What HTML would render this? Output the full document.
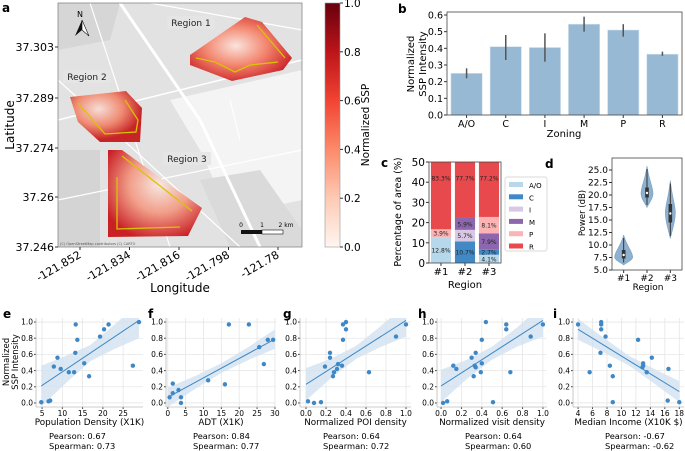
<!DOCTYPE html>
<html><head><meta charset="utf-8"><style>
html,body{margin:0;padding:0;background:#fff}
svg{display:block;font-family:"DejaVu Sans","Liberation Sans",sans-serif}
</style></head><body>
<svg id="fig" width="685" height="451" viewBox="0 0 685 451" xmlns="http://www.w3.org/2000/svg">
<defs>
<linearGradient id="reds" x1="0" y1="1" x2="0" y2="0">
<stop offset="0" stop-color="#fff5f0"/><stop offset="0.2" stop-color="#fdcab5"/><stop offset="0.4" stop-color="#fc8a6a"/><stop offset="0.6" stop-color="#f14432"/><stop offset="0.8" stop-color="#bc141a"/><stop offset="1" stop-color="#67000d"/>
</linearGradient>
<radialGradient id="heat1" cx="0.45" cy="0.45" r="0.6"><stop offset="0" stop-color="#fbe4dc"/><stop offset="0.5" stop-color="#f4826a"/><stop offset="1" stop-color="#c9181d"/></radialGradient>
<radialGradient id="heat2" cx="0.4" cy="0.35" r="0.6"><stop offset="0" stop-color="#f6ddd6"/><stop offset="0.55" stop-color="#f0866c"/><stop offset="1" stop-color="#c41a1c"/></radialGradient>
<radialGradient id="heat3" cx="0.55" cy="0.4" r="0.65"><stop offset="0" stop-color="#f7e7e2"/><stop offset="0.5" stop-color="#f29a84"/><stop offset="1" stop-color="#c8161c"/></radialGradient>
</defs>
<g id="root"></g>
</svg>
<script>
// ===== Panel b data =====
const zoneCats = ["A/O","C","I","M","P","R"];
const zoneVals = [0.25,0.41,0.405,0.545,0.51,0.365];
const zoneLo = [0.22,0.33,0.32,0.50,0.47,0.355];
const zoneHi = [0.28,0.48,0.49,0.59,0.545,0.38];
const zoneTicks = [0,0.1,0.2,0.3,0.4,0.5,0.6];
// ===== Panel c data =====
const regionCats = ["#1","#2","#3"];
const areaAO = [12.8,0,4.1];
const areaC = [0,10.7,2.7];
const areaI = [0,5.7,0];
const areaM = [0,5.9,7.9];
const areaP = [3.9,0,8.1];
const areaR = [83.3,77.7,77.2];
const areaTicks = [0,10,20,30,40,50];
// ===== Panel d data =====
const vMin = [6.0,17.5,11.3];
const vMax = [12.0,25.8,22.9];
const vMode = [7.6,20.3,16.5];
const vQ1 = [7.3,19.5,14.5];
const vMed = [8.0,20.4,16.3];
const vQ3 = [9.0,21.5,18.2];
const powerTicks = [5,7.5,10,12.5,15,17.5,20,22.5,25];
// ===== Panel e-i data =====
const ssp_e = [0.01,0.02,0.03,0.45,0.56,0.42,0.38,0.38,0.62,0.97,0.78,0.49,0.33,0.82,0.91,0.97,0.46,1.0];
const pop_e = [4.8,6.6,7.0,7.9,8.8,9.6,11.6,12.9,13.2,13.3,13.7,15.4,16.6,19.3,20.3,21.4,27.4,28.9];
const adt_f = [0.5,1.4,1.4,3.0,3.7,3.7,11.3,16.0,17.1,22.7,25.6,26.9,28.0,29.5];
const ssp_f = [0.07,0.12,0.24,0.16,0.07,0.0,0.28,0.23,0.97,0.97,0.69,0.48,0.78,0.78];
const poi_g = [0.02,0.08,0.15,0.19,0.24,0.24,0.27,0.28,0.31,0.32,0.36,0.37,0.40,0.40,0.37,0.63,0.90,1.0];
const ssp_g = [0.02,0.0,0.01,0.45,0.62,0.56,0.33,0.38,0.42,0.48,0.46,0.97,1.0,0.91,0.78,0.38,0.82,0.97];
const visit_h = [0.02,0.06,0.12,0.15,0.30,0.32,0.34,0.33,0.34,0.39,0.40,0.40,0.44,0.51,0.64,0.64,0.68,0.88,1.0];
const ssp_h = [0.0,0.02,0.46,0.42,0.56,0.33,0.62,0.46,0.44,0.38,0.49,0.78,1.0,0.01,0.97,0.91,0.38,0.82,0.97];
const inc_i = [4.0,5.6,7.1,7.2,7.2,7.2,7.8,8.4,8.8,8.8,12.3,13.0,13.0,12.9,13.5,14.2,16.5,16.4,18.0];
const ssp_i = [0.97,0.38,0.62,1.0,0.97,0.91,0.82,0.46,0.33,0.01,0.78,0.49,0.46,0.44,0.38,0.56,0.42,0.03,0.01];
const fitE = [0.21,1.02], fitF=[0.07,0.79], fitG=[0.23,1.02], fitH=[0.21,1.02], fitI=[0.91,0.14];
const bandE = [0.25,0.17,0.1,0.15,0.22], bandF=[0.12,0.08,0.06,0.08,0.12], bandG=[0.2,0.12,0.08,0.13,0.2], bandH=[0.2,0.12,0.08,0.12,0.2], bandI=[0.13,0.09,0.06,0.09,0.13];
const sspTicks = [0,0.2,0.4,0.6,0.8,1.0];
// ===== Map ticks =====
const latTicks = ["37.303","37.289","37.274","37.26","37.246"];
const lonTicks = ["-121.852","-121.834","-121.816","-121.798","-121.78"];
const cbTicks = [0,0.2,0.4,0.6,0.8,1.0];

const NS="http://www.w3.org/2000/svg";
const root=document.getElementById('root');
function el(tag,attrs,parent,txt){const e=document.createElementNS(NS,tag);for(const k in attrs)e.setAttribute(k,attrs[k]);if(txt!==undefined)e.textContent=txt;(parent||root).appendChild(e);return e;}
function lin(d0,d1,r0,r1){return v=>r0+(v-d0)/(d1-d0)*(r1-r0);}
function fmt1(v){return v.toFixed(1);}

// ===== Panel a: map =====
const ga=el('g',{});

let t=el('text',{x:2,y:12,'font-size':12,'font-weight':'bold'},ga,'a');

let bg=el('rect',{x:58,y:3,width:244,height:244,fill:'#e2e2e2'},ga);

el('path',{d:'M170 100 L302 70 L302 200 L230 215 L200 150 Z',fill:'#f4f4f4'},ga);
el('path',{d:'M58 3 L120 3 L110 40 L58 50 Z',fill:'#d6d6d6'},ga);
el('path',{d:'M58 150 L100 150 L100 247 L58 247 Z',fill:'#d4d4d4'},ga);
el('path',{d:'M200 180 L260 170 L302 230 L302 247 L230 247 Z',fill:'#dadada'},ga);
[['M120 3 L200 120 L260 247',3],['M58 120 L302 60',1.5],['M58 200 L302 150',1.2],['M90 3 L170 247',1.2],['M58 80 L240 247',1.2],['M150 3 L302 30',1.2],['M230 100 L240 140',1]].forEach(r=>{el('path',{d:r[0],stroke:'#fff','stroke-width':r[1],fill:'none'},ga);});
const reg=[['M190 55 L245 17 L262 22 L292 58 L283 70 L232 81 L190 65 Z','heat1','M196 58 L215 62 L235 72 L250 65 L278 62','M257 25 L285 58'],
['M70 97 L126 91 L142 108 L140 142 L100 142 L78 122 Z','heat2','M78 103 L105 134 L136 132 L138 120 L125 100',''],
['M108 150 L122 150 L202 208 L188 236 L108 237 Z','heat3','M117 177 L117 229 L180 227','M122 156 L192 211']];
reg.forEach((r,i)=>{const p=el('path',{d:r[0],fill:'url(#'+r[1]+')',opacity:0.95},ga);

const l=el('path',{d:r[2],stroke:'#d8c400','stroke-width':1.3,fill:'none'},ga);

if(r[3]){el('path',{d:r[3],stroke:'#d8c400','stroke-width':1.3,fill:'none'},ga);}});
[[167,16,'Region 1'],[63,70,'Region 2'],[163,152,'Region 3']].forEach((r,i)=>{
const g=el('g',{},ga);
el('rect',{x:r[0],y:r[1],width:48,height:13,fill:'#e6e6e6',opacity:0.9},g);
el('text',{x:r[0]+24,y:r[1]+10,'font-size':9,'text-anchor':'middle',fill:'#222'},g,r[2]);});
const na=el('g',{},ga);
el('text',{x:80,y:17,'font-size':8,'text-anchor':'middle'},na,'N');
el('path',{d:'M82 20 L75 36 L82 30 Z',fill:'#111'},na);el('path',{d:'M82 20 L89 36 L82 30 Z',fill:'#fff',stroke:'#111','stroke-width':0.6},na);
const sb=el('g',{},ga);
el('rect',{x:241,y:230,width:21,height:4,fill:'#111'},sb);el('rect',{x:262,y:230,width:21,height:4,fill:'#fff',stroke:'#111','stroke-width':0.6},sb);
el('text',{x:241,y:227,'font-size':6,'text-anchor':'middle'},sb,'0');el('text',{x:262,y:227,'font-size':6,'text-anchor':'middle'},sb,'1');el('text',{x:286,y:227,'font-size':6,'text-anchor':'middle'},sb,'2 km');
el('text',{x:60,y:245,'font-size':3.5,fill:'#555'},ga,'(C) OpenStreetMap contributors (C) CARTO');
el('rect',{x:58,y:3,width:244,height:244,fill:'none',stroke:'#888','stroke-width':0.8},ga);
const latY=[47,98,148,197,247];
latTicks.forEach((s,i)=>{el('line',{x1:55,x2:58,y1:latY[i],y2:latY[i],stroke:'#333'},ga);
const tt=el('text',{x:54,y:latY[i]+4,'font-size':11,'text-anchor':'end'},ga,s);});
const lonX=[80,129.5,179,228.5,278];
lonTicks.forEach((s,i)=>{el('line',{x1:lonX[i],x2:lonX[i],y1:247,y2:250,stroke:'#333'},ga);
const tt=el('text',{x:lonX[i]+2,y:257,'font-size':11,'text-anchor':'end',transform:'rotate(-30 '+(lonX[i]+2)+' 257)'},ga,s);});
t=el('text',{x:14,y:125,'font-size':12,'text-anchor':'middle',transform:'rotate(-90 14 125)'},ga,'Latitude');
t=el('text',{x:180,y:292,'font-size':12,'text-anchor':'middle'},ga,'Longitude');
const cb=el('g',{},ga);
el('rect',{x:325,y:3,width:15,height:244,fill:'url(#reds)',stroke:'#999','stroke-width':0.6},cb);
const cbY=lin(0,1,247,3);
cbTicks.forEach(v=>{el('line',{x1:340,x2:343,y1:cbY(v),y2:cbY(v),stroke:'#333'},cb);el('text',{x:344,y:cbY(v)+4,'font-size':10.5},cb,fmt1(v));});
el('text',{x:369,y:125,'font-size':10.5,'text-anchor':'middle',transform:'rotate(-90 369 125)'},cb,'Normalized SSP');

// ===== Panel b =====
const gb=el('g',{});
t=el('text',{x:398,y:13,'font-size':12,'font-weight':'bold'},gb,'b');
const bx0=447,bx1=682,bYt=12,bYb=115;
const by=lin(0,0.6,115,15);
const bw=(bx1-bx0)/6;
zoneCats.forEach((c,i)=>{const cx=bx0+bw*(i+0.5);
const r=el('rect',{x:cx-bw*0.4,y:by(zoneVals[i]),width:bw*0.8,height:by(0)-by(zoneVals[i]),fill:'#98b9d4',stroke:'#d4e4f0','stroke-width':0.6},gb);

const e=el('line',{x1:cx,x2:cx,y1:by(zoneLo[i]),y2:by(zoneHi[i]),stroke:'#555','stroke-width':1.5},gb);

el('line',{x1:cx,x2:cx,y1:bYb,y2:bYb+3,stroke:'#333'},gb);
el('text',{x:cx,y:bYb+12,'font-size':9.5,'text-anchor':'middle'},gb,c);});
zoneTicks.forEach(v=>{el('line',{x1:bx0-3,x2:bx0,y1:by(v),y2:by(v),stroke:'#333'},gb);el('text',{x:bx0-4,y:by(v)+3.5,'font-size':9.5,'text-anchor':'end'},gb,fmt1(v));});
el('rect',{x:bx0,y:bYt,width:bx1-bx0,height:bYb-bYt,fill:'none',stroke:'#444','stroke-width':0.8},gb);
el('text',{x:414,y:64,'font-size':10,'text-anchor':'middle',transform:'rotate(-90 414 64)'},gb,'Normalized');
el('text',{x:426,y:64,'font-size':10,'text-anchor':'middle',transform:'rotate(-90 426 64)'},gb,'SSP Intensity');
el('text',{x:564,y:137,'font-size':10,'text-anchor':'middle'},gb,'Zoning');

// ===== Panel c =====
const gc=el('g',{});
t=el('text',{x:381,y:167,'font-size':12,'font-weight':'bold'},gc,'c');
const cx0=429,cx1=501,cyt=162,cyb=263;
const cy=lin(0,50,263,162);
const series=[['A/O',areaAO,'#b7d7ea'],['C',areaC,'#4189c4'],['I',areaI,'#d8c8e3'],['M',areaM,'#8e66ae'],['P',areaP,'#fbb3b3'],['R',areaR,'#e8494c']];
const cw=(cx1-cx0)/3;
regionCats.forEach((rc,i)=>{const xc=cx0+cw*(i+0.5);let acc=0;
series.forEach(s=>{const v=s[1][i];if(v<=0)return;const top=Math.min(acc+v,50);
const r=el('rect',{x:xc-cw*0.42,y:cy(top),width:cw*0.84,height:cy(acc)-cy(top),fill:s[2]},gc);

const mid=(acc+top)/2;
el('text',{x:xc,y:cy(s[0]==='R'?42:mid)+2.5,'font-size':6,'text-anchor':'middle',fill:'#222'},gc,v.toFixed(1)+'%');
acc+=v;});
el('line',{x1:xc,x2:xc,y1:cyb,y2:cyb+3,stroke:'#333'},gc);
el('text',{x:xc,y:cyb+12,'font-size':10,'text-anchor':'middle'},gc,rc);});
areaTicks.forEach(v=>{el('line',{x1:cx0-3,x2:cx0,y1:cy(v),y2:cy(v),stroke:'#333'},gc);el('text',{x:cx0-4,y:cy(v)+4,'font-size':10.5,'text-anchor':'end'},gc,String(v));});
el('rect',{x:cx0,y:cyt,width:cx1-cx0,height:cyb-cyt,fill:'none',stroke:'#444','stroke-width':0.8},gc);
el('text',{x:401,y:212,'font-size':9.5,'text-anchor':'middle',transform:'rotate(-90 401 212)'},gc,'Percentage of area (%)');
el('text',{x:465,y:288,'font-size':10,'text-anchor':'middle'},gc,'Region');
const lg=el('g',{},gc);
el('rect',{x:505,y:177,width:42,height:74,fill:'#fff',stroke:'#ccc','stroke-width':0.7,rx:2},lg);
series.forEach((s,i)=>{const yy=185+i*12.3;const g=el('g',{},lg);
el('rect',{x:509,y:yy-3,width:14,height:5,fill:s[2]},g);el('text',{x:529,y:yy+3,'font-size':7},g,s[0]);});

// ===== Panel d =====
const gd=el('g',{});
t=el('text',{x:545,y:168,'font-size':12,'font-weight':'bold'},gd,'d');
const dx0=612,dx1=682,dyt=158,dyb=270;
const dy=lin(5,25,270,170);
const dw=(dx1-dx0)/3;const halfW=[9,6,5];
regionCats.forEach((rc,i)=>{const xc=dx0+dw*(i+0.5);const w=halfW[i];
const yMin=dy(vMin[i]),yMax=dy(vMax[i]),yMode=dy(vMode[i]);
const d='M'+xc+' '+yMax+' C'+(xc+w*0.3)+' '+(yMax+(yMode-yMax)*0.5)+' '+(xc+w)+' '+(yMode-(yMode-yMax)*0.25)+' '+(xc+w)+' '+yMode+' C'+(xc+w)+' '+(yMode+(yMin-yMode)*0.4)+' '+(xc+w*0.3)+' '+(yMin-(yMin-yMode)*0.3)+' '+xc+' '+yMin+' C'+(xc-w*0.3)+' '+(yMin-(yMin-yMode)*0.3)+' '+(xc-w)+' '+(yMode+(yMin-yMode)*0.4)+' '+(xc-w)+' '+yMode+' C'+(xc-w)+' '+(yMode-(yMode-yMax)*0.25)+' '+(xc-w*0.3)+' '+(yMax+(yMode-yMax)*0.5)+' '+xc+' '+yMax+' Z';
const v=el('path',{d:d,fill:'#8eb1cf',stroke:'#7d9fbd','stroke-width':0.6},gd);
el('line',{x1:xc,x2:xc,y1:dy(vMin[i]+0.5),y2:dy(vMax[i]-0.6),stroke:'#333','stroke-width':1},gd);
el('rect',{x:xc-1.8,y:dy(vQ3[i]),width:3.6,height:dy(vQ1[i])-dy(vQ3[i]),fill:'#333'},gd);
el('circle',{cx:xc,cy:dy(vMed[i]),r:1.2,fill:'#fff'},gd);
el('line',{x1:xc,x2:xc,y1:dyb,y2:dyb+3,stroke:'#333'},gd);
el('text',{x:xc,y:dyb+11,'font-size':9,'text-anchor':'middle'},gd,rc);});
powerTicks.forEach(v=>{el('line',{x1:dx0-3,x2:dx0,y1:dy(v),y2:dy(v),stroke:'#333'},gd);el('text',{x:dx0-4,y:dy(v)+3.2,'font-size':9,'text-anchor':'end'},gd,v.toFixed(1));});
el('rect',{x:dx0,y:dyt,width:dx1-dx0,height:dyb-dyt,fill:'none',stroke:'#444','stroke-width':0.8},gd);
el('text',{x:585,y:213,'font-size':8.5,'text-anchor':'middle',transform:'rotate(-90 585 213)'},gd,'Power (dB)');
el('text',{x:648,y:290,'font-size':9,'text-anchor':'middle'},gd,'Region');

// ===== Scatter panels =====
function scatter(o){
const g=el('g',{});
const tl=el('text',{x:o.lx,y:318,'font-size':12,'font-weight':'bold'},g,o.letter);

const X=lin(o.xmin,o.xmax,o.px0,o.px1),Y=lin(-0.05,1.05,407,318);
o.xticks.forEach(v=>{el('line',{x1:X(v),x2:X(v),y1:318,y2:407,stroke:'#e6e6e6','stroke-width':0.8},g);
el('line',{x1:X(v),x2:X(v),y1:407,y2:409,stroke:'#444'},g);
el('text',{x:X(v),y:416,'font-size':7.5,'text-anchor':'middle'},g,o.tf(v));});
sspTicks.forEach(v=>{el('line',{x1:o.px0,x2:o.px1,y1:Y(v),y2:Y(v),stroke:'#e6e6e6','stroke-width':0.8},g);
el('line',{x1:o.px0-2,x2:o.px0,y1:Y(v),y2:Y(v),stroke:'#444'},g);
el('text',{x:o.px0-3,y:Y(v)+2.7,'font-size':7.5,'text-anchor':'end'},g,fmt1(v));});
const cp=el('clipPath',{id:'clip'+o.letter},g);el('rect',{x:o.px0,y:318,width:o.px1-o.px0,height:89},cp);
const xa=o.xs[0],xb=o.xs[1];const n=o.band.length;
let up=[],dn=[];
for(let k=0;k<n;k++){const xv=xa+(xb-xa)*k/(n-1);const yv=o.fit[0]+(o.fit[1]-o.fit[0])*k/(n-1);up.push(X(xv)+','+Y(yv+o.band[k]));dn.unshift(X(xv)+','+Y(yv-o.band[k]));}
const bd=el('polygon',{points:up.concat(dn).join(' '),fill:'#cfe0f0',opacity:0.75,'clip-path':'url(#clip'+o.letter+')'},g);

const fl=el('line',{x1:X(xa),y1:Y(o.fit[0]),x2:X(xb),y2:Y(o.fit[1]),stroke:'#3f88c5','stroke-width':1,'clip-path':'url(#clip'+o.letter+')'},g);

o.x.forEach((xv,k)=>{const c=el('circle',{cx:X(xv),cy:Y(o.y[k]),r:2.2,fill:'#3f88c5'},g);
});
el('line',{x1:o.px0,x2:o.px0,y1:318,y2:407,stroke:'#bbb','stroke-width':0.8},g);
el('line',{x1:o.px0,x2:o.px1,y1:407,y2:407,stroke:'#bbb','stroke-width':0.8},g);
const cxm=(o.px0+o.px1)/2;
el('text',{x:cxm,y:425,'font-size':8.8,'text-anchor':'middle'},g,o.xlabel);
el('text',{x:o.sx,y:439,'font-size':8.3},g,'Pearson: '+o.p);
el('text',{x:o.sx,y:449,'font-size':8.3},g,'Spearman: '+o.s);
return g;}
const f1=v=>fmt1(v),f0=v=>String(v);
scatter({name:'scatter-population-density',letter:'e',lx:3,px0:36,px1:143,xmin:3.5,xmax:29.9,xticks:[5,10,15,20,25],tf:f0,x:pop_e,y:ssp_e,xs:[4.8,28.9],fit:fitE,band:bandE,xlabel:'Population Density (X1K)',sx:49,p:'0.67',s:'0.73'});
scatter({name:'scatter-adt',letter:'f',lx:148,px0:166,px1:276,xmin:-0.5,xmax:30.3,xticks:[0,5,10,15,20,25,30],tf:f0,x:adt_f,y:ssp_f,xs:[0,30],fit:fitF,band:bandF,xlabel:'ADT (X1K)',sx:193,p:'0.84',s:'0.77'});
scatter({name:'scatter-poi-density',letter:'g',lx:283,px0:300,px1:411,xmin:-0.06,xmax:1.05,xticks:[0,0.2,0.4,0.6,0.8,1.0],tf:f1,x:poi_g,y:ssp_g,xs:[0,1],fit:fitG,band:bandG,xlabel:'Normalized POI density',sx:323,p:'0.64',s:'0.72'});
scatter({name:'scatter-visit-density',letter:'h',lx:418,px0:437,px1:547,xmin:-0.04,xmax:1.04,xticks:[0,0.2,0.4,0.6,0.8,1.0],tf:f1,x:visit_h,y:ssp_h,xs:[0,1],fit:fitH,band:bandH,xlabel:'Normalized visit density',sx:465,p:'0.64',s:'0.60'});
scatter({name:'scatter-median-income',letter:'i',lx:553,px0:573,px1:684,xmin:3.3,xmax:18.65,xticks:[4,6,8,10,12,14,16,18],tf:f0,x:inc_i,y:ssp_i,xs:[4,18],fit:fitI,band:bandI,xlabel:'Median Income (X10K $)',sx:605,p:'-0.67',s:'-0.62'});
t=el('text',{x:9,y:362,'font-size':8.5,'text-anchor':'middle',transform:'rotate(-90 9 362)'},root,'Normalized');
el('text',{x:18,y:362,'font-size':8.5,'text-anchor':'middle',transform:'rotate(-90 18 362)'},root,'SSP Intensity');
</script>
</body></html>
